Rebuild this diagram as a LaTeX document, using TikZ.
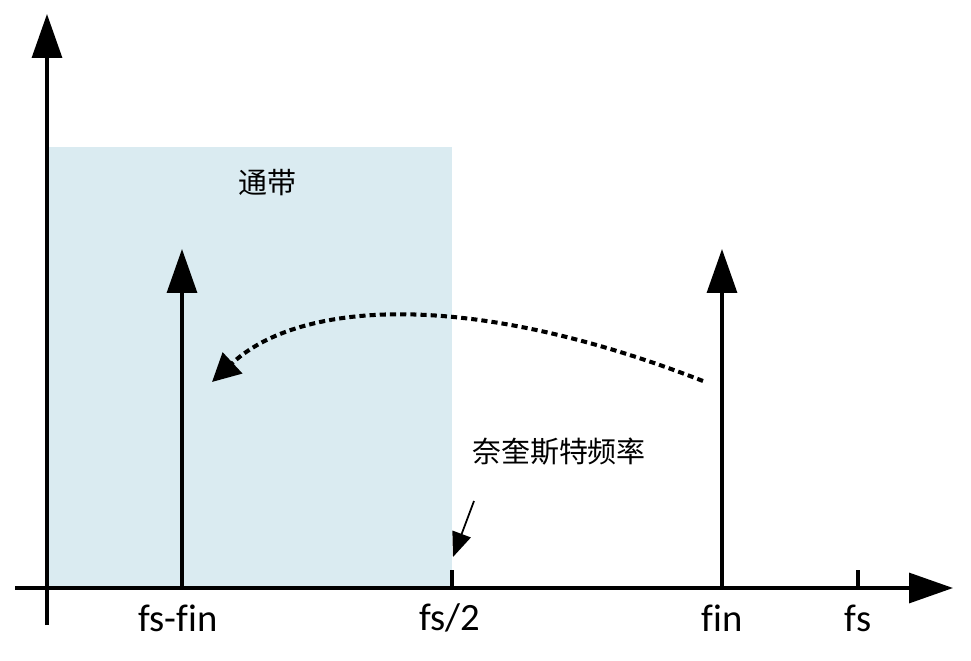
\documentclass[tikz,border=0pt]{standalone}
\usepackage{fontspec}
\setmainfont{Carlito}[Ligatures=NoCommon]
\newfontfamily\cjkfont{Noto Sans CJK SC}
\usepackage{xcolor}
\usetikzlibrary{arrows.meta, positioning, calc}

\definecolor{passblue}{RGB}{218,235,241}

\begin{document}
\begin{tikzpicture}[
  x=0.02cm, y=-0.02cm,
  axisline/.style={line width=2pt, -{Triangle[length=25pt, width=17pt]}},
  spike/.style={line width=2pt, -{Triangle[length=25pt, width=17pt]}},
  tickmark/.style={line width=2pt},
  foldarr/.style={line width=2.3pt, dash pattern=on 3.5pt off 2.3pt,
                  -{Triangle[length=16pt, width=16pt]}},
  markarr/.style={line width=1pt, -{Triangle[length=14pt, width=11pt]}},
  freqlbl/.style={font=\fontsize{22}{26}\selectfont, inner sep=0pt},
  cjklbl/.style={font=\cjkfont\fontsize{16.5}{20}\selectfont, inner sep=0pt},
]
\useasboundingbox (0,0) rectangle (971,660);

%% Pass band
\fill[passblue] (48,147) rectangle (452,588);
\node[cjklbl] (band) at (267,183) {通带};

%% Axes
\coordinate (O) at (47,588);
\coordinate (ybot) at (47,625);
\coordinate (ytop) at (47,14);
\coordinate (xleft) at (15,588);
\coordinate (xright) at (953,588);
\draw[axisline] (ybot) -- (ytop);
\draw[axisline] (xleft) -- (xright);

%% Ticks
\coordinate (half) at (452,588);
\coordinate (halftop) at (452,570);
\coordinate (fsx) at (858,588);
\coordinate (fstop) at (858,570);
\draw[tickmark] (half) -- (halftop);
\draw[tickmark] (fsx) -- (fstop);

%% Spectral lines
\coordinate (alias) at (182,588);
\coordinate (aliastop) at (182,249);
\coordinate (input) at (722,588);
\coordinate (inputtop) at (722,249);
\draw[spike] (alias) -- (aliastop);
\draw[spike] (input) -- (inputtop);

%% Axis labels
\node[freqlbl] (lalias) at (178,618) {fs-fin};
\node[freqlbl] (lhalf) at (450,618) {fs/2};
\node[freqlbl] (linput) at (722,618) {fin};
\node[freqlbl] (lfs) at (858,618) {fs};

%% Nyquist note
\node[cjklbl] (nyq) at (559,452) {奈奎斯特频率};
\coordinate (nyqfrom) at (474,501);
\coordinate (nyqto) at (453,557);
\draw[markarr] (nyqfrom) -- (nyqto);

%% Folding
\coordinate (foldstart) at (703,381);
\coordinate (foldend) at (212,382);
\draw[foldarr] (foldstart) .. controls (470,290) and (300,300) .. (foldend);

\end{tikzpicture}
\end{document}
